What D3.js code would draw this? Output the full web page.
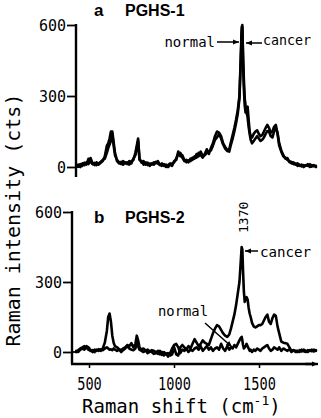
<!DOCTYPE html>
<html><head><meta charset="utf-8">
<script src="https://cdn.jsdelivr.net/npm/d3@7"></script>
<style>body{margin:0;background:#fff}</style>
</head><body><svg id="c" width="321" height="418"></svg>
<script>
// Raman shift (cm-1) sample positions shared by all traces
const shift = [
  425,437,449,461,473,485,497,509,521,533,545,557,569,581,593,
  605,613,621,629,637,645,653,
  665,677,689,701,713,725,737,749,761,773,
  781,789,797,809,821,833,845,857,869,881,
  893,905,917,929,941,953,965,977,989,1001,
  1013,1025,1037,1049,1061,1073,1085,1097,1109,1121,
  1133,1145,1157,1169,1181,1193,1205,1217,1229,1241,
  1253,1265,1277,1289,1301,1313,1325,1335,1345,1355,
  1365,1375,1385,1392,1398,1402,1406,1411,1416,1421,
  1427,1433,1439,1445,1451,1459,1469,1479,1489,1499,
  1509,1519,1529,1539,1549,1559,1569,1579,1589,1599,
  1609,1619,1631,1643,1655,1667,1679,1691,1703,1715,
  1727,1739,1751,1763,1775,1787,1799,1811,1823,1835
];
// panel a: PGHS-1
const normalA = [
  5,10,0,15,8,20,12,38,15,8,20,10,18,25,45,
  90,100,120,150,140,90,50,
  30,20,12,25,15,20,10,25,30,60,
  90,120,35,18,25,10,18,5,15,10,
  22,15,8,15,5,10,0,8,15,20,
  35,55,60,40,25,30,20,35,30,45,
  40,60,50,40,55,75,55,80,100,130,
  150,145,130,100,85,72,75,105,135,165,
  200,240,300,450,590,600,450,330,260,230,
  250,255,200,150,130,125,140,150,155,140,
  130,135,150,165,178,165,145,150,170,178,
  140,90,65,45,40,30,25,15,20,10,
  15,5,10,0,8,5,12,2,8,0
];
const cancerA = [
  8,2,12,5,18,10,35,22,12,18,8,15,22,30,35,
  60,80,95,110,150,105,60,
  25,15,22,10,20,12,25,15,35,50,
  80,110,30,25,10,20,8,15,10,20,
  15,25,10,5,12,0,8,15,5,25,
  30,65,45,50,30,20,28,25,40,35,
  55,45,65,45,50,60,65,70,90,115,
  125,140,120,95,78,68,65,95,120,150,
  185,225,290,430,560,590,480,370,290,260,
  230,210,170,140,115,100,110,120,130,120,
  110,115,125,140,152,150,130,125,150,165,
  145,100,70,50,35,38,20,22,12,15,
  5,10,2,8,5,12,0,8,3,5
];
// panel b: PGHS-2
const normalB = [
  0,8,15,20,25,18,10,5,8,0,10,5,12,8,15,
  20,15,10,12,8,15,10,
  5,10,0,8,15,25,15,10,8,15,
  40,25,10,5,0,8,-5,5,0,-8,
  -5,5,-10,0,-15,-5,-20,-5,15,30,
  35,20,-5,10,5,15,0,10,5,15,
  20,10,25,5,15,25,10,20,5,15,
  20,10,35,15,5,25,10,20,15,30,
  20,35,50,60,65,50,30,15,20,25,
  35,25,15,5,10,0,10,5,15,10,
  5,15,20,25,30,15,5,10,20,15,
  10,20,5,15,10,5,12,0,8,5,
  5,0,10,3,0,8,5,10,2,8
];
const cancerB = [
  5,0,10,15,10,25,20,8,0,10,5,12,5,15,40,
  90,150,165,130,70,40,25,
  20,12,8,15,20,30,25,38,20,35,
  70,50,20,10,15,5,10,0,8,5,
  0,-8,5,-12,0,-10,-5,-15,-10,20,
  -10,-15,20,30,20,10,25,15,35,55,
  40,25,35,50,40,35,30,55,80,100,
  115,110,95,80,70,65,75,100,130,160,
  200,250,300,380,450,440,350,260,215,225,
  235,225,190,165,150,125,110,105,110,115,
  115,120,135,150,160,130,120,145,160,155,
  110,80,45,40,38,35,20,5,8,0,
  0,8,2,10,5,0,8,3,10,5
];
const yTicks = [0, 300, 600];
const xTicks = [500, 1000, 1500];
const panelTitles = [["a", "PGHS-1"], ["b", "PGHS-2"]];

[normalA, cancerA, normalB, cancerB].forEach((s, i) => {
  if (s.length !== shift.length) throw new Error("length mismatch series " + i + ": " + s.length + " vs " + shift.length);
});

const MONO = "'DejaVu Sans Mono', monospace";
const SANS = "'Liberation Sans', Arial, sans-serif";
const svg = d3.select("#c");

const x = d3.scaleLinear().domain([400, 1850]).range([72, 318.5]);
const yA = d3.scaleLinear().domain([0, 600]).range([167, 25]);
const yB = d3.scaleLinear().domain([0, 600]).range([352, 212]);

function trace(y, vals) {
  const line = d3.line().x((d, i) => x(shift[i])).y(d => y(d)).curve(d3.curveLinear);
  svg.append("path").datum(vals).attr("d", line)
    .attr("fill", "none").attr("stroke", "#000").attr("stroke-width", 2.6)
    .attr("stroke-linejoin", "round").attr("stroke-linecap", "round");
}

function yAxis(y, ax, bottom) {
  const g = svg.append("g").attr("transform", `translate(${ax},0)`)
    .call(d3.axisLeft(y).tickValues(yTicks).tickSize(9).tickPadding(1).tickFormat(d3.format("d")));
  g.select(".domain").remove();
  g.selectAll(".tick line").attr("stroke", "#000").attr("stroke-width", 1.8);
  g.selectAll(".tick text").attr("font-family", MONO).attr("font-size", 15).attr("fill", "#000").attr("dy", "0.36em");
  g.append("line").attr("x1", 0).attr("x2", 4).attr("y1", y(0)).attr("y2", y(0)).attr("stroke", "#000").attr("stroke-width", 1.8);
  svg.append("line").attr("x1", ax).attr("x2", ax).attr("y1", y(600) - 1).attr("y2", bottom)
    .attr("stroke", "#000").attr("stroke-width", 2.4);
}

function arrow(x1, y1, x2, y2, w) {
  svg.append("line").attr("x1", x1).attr("y1", y1).attr("x2", x2).attr("y2", y2)
    .attr("stroke", "#000").attr("stroke-width", w || 1.5);
  const a = Math.atan2(y2 - y1, x2 - x1), L = 6, H = 2.6;
  const bx = x2 - L * Math.cos(a), by = y2 - L * Math.sin(a);
  const pts = [[x2, y2], [bx + H * Math.sin(a), by - H * Math.cos(a)], [bx - H * Math.sin(a), by + H * Math.cos(a)]];
  svg.append("polygon").attr("points", pts.map(p => p.join(",")).join(" ")).attr("fill", "#000");
}

// Panel a
yAxis(yA, 76, 177);
trace(yA, normalA);
trace(yA, cancerA);

// Panel b
yAxis(yB, 72, 364);
trace(yB, normalB);
trace(yB, cancerB);

// x axis (panel b)
const gx = svg.append("g").attr("transform", "translate(0,364)")
  .call(d3.axisBottom(x).tickValues(xTicks).tickSize(4).tickFormat(d3.format("d")));
gx.select(".domain").remove();
gx.selectAll(".tick line").attr("stroke", "#000").attr("stroke-width", 1.5);
gx.selectAll(".tick text").attr("font-family", MONO).attr("font-size", 17).attr("fill", "#000")
  .attr("y", 26).attr("dy", 0)
  .attr("textLength", d => String(d).length * 8.2).attr("lengthAdjust", "spacingAndGlyphs");
svg.append("line").attr("x1", 71).attr("x2", 312).attr("y1", 364).attr("y2", 364)
  .attr("stroke", "#000").attr("stroke-width", 2.4);
arrow(305, 364, 318, 364, 2.4);

// axis titles
svg.append("text").attr("transform", "translate(20,220) rotate(-90)")
  .attr("text-anchor", "middle").attr("font-family", MONO).attr("font-size", 20)
  .text("Raman intensity (cts)");
const xt = svg.append("text").attr("x", 82).attr("y", 413).attr("font-family", MONO).attr("font-size", 19);
xt.append("tspan").text("Raman shift (cm");
xt.append("tspan").attr("font-size", 13).attr("dy", -8).text("-1");
xt.append("tspan").attr("dy", 8).text(")");

// panel titles
[[yA, 16], [yB, 223]].forEach(([y, base], i) => {
  svg.append("text").attr("x", 94).attr("y", base).attr("font-family", SANS).attr("font-size", 17)
    .attr("font-weight", "bold").text(panelTitles[i][0]);
  svg.append("text").attr("x", 125).attr("y", base).attr("font-family", SANS).attr("font-size", 16)
    .attr("font-weight", "bold").text(panelTitles[i][1]);
});

// annotations panel a
const px = x(1400);
svg.append("text").attr("x", 215).attr("y", 47).attr("text-anchor", "end")
  .attr("font-family", MONO).attr("font-size", 14).text("normal");
arrow(217, 42, px - 3, 42);
arrow(262, 43, px + 4, 43);
svg.append("text").attr("x", 263).attr("y", 45).attr("font-family", MONO).attr("font-size", 14)
  .attr("textLength", 48).attr("lengthAdjust", "spacingAndGlyphs").text("cancer");

// annotations panel b
svg.append("text").attr("transform", `translate(${px + 6},233) rotate(-90)`)
  .attr("font-family", MONO).attr("font-size", 13).text("1370");
arrow(258, 251, px + 3, 251);
svg.append("text").attr("x", 260).attr("y", 257).attr("font-family", MONO).attr("font-size", 14)
  .attr("textLength", 51).attr("lengthAdjust", "spacingAndGlyphs").text("cancer");
svg.append("text").attr("x", 158).attr("y", 316).attr("font-family", MONO).attr("font-size", 14)
  .attr("textLength", 50).attr("lengthAdjust", "spacingAndGlyphs").text("normal");
arrow(205, 323, 232, 347);
</script></body></html>
